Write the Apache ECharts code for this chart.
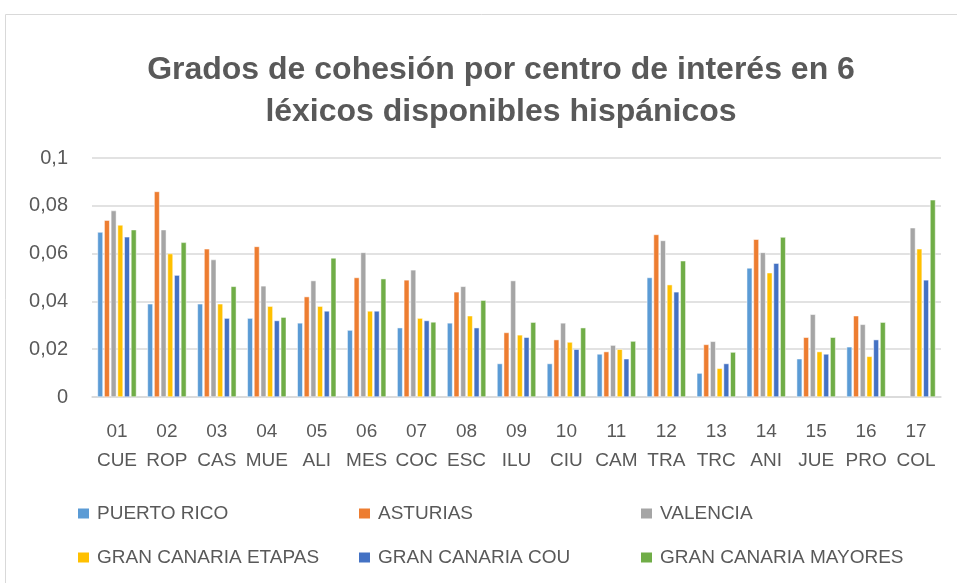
<!DOCTYPE html>
<html><head><meta charset="utf-8">
<script src="https://cdn.jsdelivr.net/npm/echarts@6/dist/echarts.min.js"></script>
<style>html,body{margin:0;padding:0;background:#fff}#c{width:957px;height:583px}</style>
</head><body><div id="c"></div>
<script>
var categories = ["01\nCUE","02\nROP","03\nCAS","04\nMUE","05\nALI","06\nMES","07\nCOC","08\nESC","09\nILU","10\nCIU","11\nCAM","12\nTRA","13\nTRC","14\nANI","15\nJUE","16\nPRO","17\nCOL"];
var seriesNames = ["PUERTO RICO","ASTURIAS","VALENCIA","GRAN CANARIA ETAPAS","GRAN CANARIA COU","GRAN CANARIA MAYORES"];
var puertoRico = [0.069,0.039,0.039,0.033,0.031,0.028,0.029,0.031,0.014,0.014,0.018,0.050,0.010,0.054,0.016,0.021,null];
var asturias   = [0.074,0.086,0.062,0.063,0.042,0.050,0.049,0.044,0.027,0.024,0.019,0.068,0.022,0.066,0.025,0.034,null];
var valencia   = [0.078,0.070,0.0575,0.0465,0.0487,0.0605,0.0532,0.0463,0.0487,0.031,0.0217,0.0655,0.0233,0.0605,0.0346,0.0304,0.0708];
var etapas     = [0.072,0.060,0.039,0.038,0.038,0.036,0.033,0.034,0.026,0.023,0.020,0.047,0.012,0.052,0.019,0.017,0.062];
var cou        = [0.067,0.051,0.033,0.032,0.036,0.036,0.032,0.029,0.025,0.020,0.016,0.044,0.014,0.056,0.018,0.024,0.049];
var mayores    = [0.070,0.0647,0.0463,0.0334,0.0582,0.0495,0.0314,0.0405,0.0313,0.029,0.0234,0.057,0.0188,0.0669,0.025,0.0313,0.0825];
var yTicks = [0,0.02,0.04,0.06,0.08,0.1];
var colors = ["#5B9BD5","#ED7D31","#A5A5A5","#FFC000","#4472C4","#70AD47"];
var allData = [puertoRico, asturias, valencia, etapas, cou, mayores];
var titleText = 'Grados de cohesión por centro de interés en 6\nléxicos disponibles hispánicos';

var FONT = 'Liberation Sans, sans-serif';
var chart = echarts.init(document.getElementById('c'), null, {renderer:'canvas'});
var legendPos = [[76,504],[357,504],[639,504],[76,548],[357,548],[639,548]];
var legends = seriesNames.map(function(n,i){
  return {data:[n], left:legendPos[i][0], top:legendPos[i][1], padding:0, itemWidth:13, itemHeight:12, itemGap:4,
    icon:'rect', textStyle:{fontFamily:FONT, fontSize:19, color:'#595959', padding:[0,0,0,2]}, selectedMode:false};
});
chart.setOption({
  animation:false,
  color: colors,
  graphic:[
    {type:'rect', shape:{x:5.5,y:14.5,width:960,height:580}, style:{fill:null, stroke:'#d9d9d9', lineWidth:1}, silent:true},
    {type:'text', x:501, y:49, silent:true,
      style:{text:titleText, align:'center', verticalAlign:'top', lineHeight:42,
        font:'bold 32px Liberation Sans, sans-serif', fill:'#595959'}}
  ],
  legend: legends,
  grid:{left:92, right:16, top:158, bottom:186},
  xAxis:{type:'category', data:categories,
    axisLine:{lineStyle:{color:'#d9d9d9', width:1.5}}, axisTick:{show:false},
    axisLabel:{color:'#595959', fontSize:19, fontFamily:FONT, lineHeight:29, margin:20, interval:0}},
  yAxis:{type:'value', min:0, max:0.1, interval:0.02,
    axisLine:{show:false}, axisTick:{show:false},
    splitLine:{lineStyle:{color:'#d9d9d9', width:1.5}},
    axisLabel:{color:'#595959', fontSize:20, fontFamily:FONT, margin:24,
      formatter:function(v){ return yTicks.indexOf(v)>=0 ? String(v).replace('.',',') : ''; }}},
  series: seriesNames.map(function(n,i){
    return {name:n, type:'bar', data:allData[i], barGap:'22%', barCategoryGap:'22%',
      itemStyle:{color:colors[i], borderColor:'#fff', borderWidth:0.5}};
  })
});
</script></body></html>
